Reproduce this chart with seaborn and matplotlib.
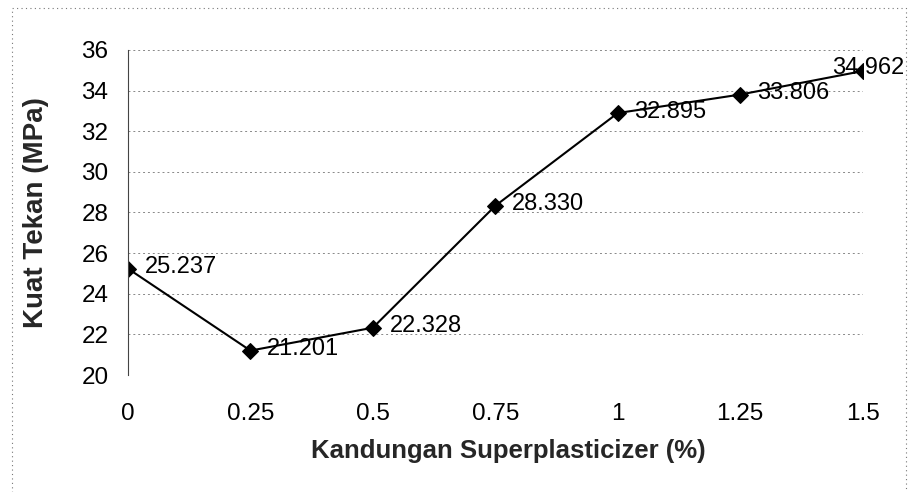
import numpy as np
import pandas as pd
import matplotlib
matplotlib.use('Agg')
import matplotlib.pyplot as plt
import seaborn as sns
from matplotlib.patches import Rectangle

# data
kadar = [0, 0.25, 0.5, 0.75, 1, 1.25, 1.5]
kuat_tekan = [25.237, 21.201, 22.328, 28.330, 32.895, 33.806, 34.962]
x_ticks = [0, 0.25, 0.5, 0.75, 1, 1.25, 1.5]
x_labels = ['0', '0.25', '0.5', '0.75', '1', '1.25', '1.5']
y_ticks = [20, 22, 24, 26, 28, 30, 32, 34, 36]

df = pd.DataFrame({'kadar': kadar, 'kuat': kuat_tekan})

sns.set_style('white')
plt.rcParams['font.family'] = ['Liberation Sans', 'DejaVu Sans']

fig = plt.figure(figsize=(9.09, 4.92), dpi=100)
ax = fig.add_axes([0.1408, 0.2378, 0.8082, 0.6606])

sns.lineplot(data=df, x='kadar', y='kuat', ax=ax, color='black', linewidth=1.5,
             marker='D', markersize=8.5, markeredgecolor='black')

# data labels right of each point; last one sits over its point like in Excel
for i, (xv, yv) in enumerate(zip(kadar, kuat_tekan)):
    if i == len(kadar) - 1:
        ax.annotate(f'{yv:.3f}', (xv, yv), xytext=(4, 2), textcoords='offset points',
                    va='center', ha='center', fontsize=17, color='black', zorder=1)
    else:
        ax.annotate(f'{yv:.3f}', (xv, yv), xytext=(12, 1), textcoords='offset points',
                    va='center', ha='left', fontsize=17, color='black')

ax.set_xlim(0, 1.5)
ax.set_ylim(20, 36)
ax.set_xticks(x_ticks)
ax.set_xticklabels(x_labels)
ax.set_yticks(y_ticks)
ax.tick_params(axis='both', labelsize=17.5, colors='#555555', labelcolor='black',
               length=4, width=0.8)
ax.tick_params(axis='x', pad=16)
ax.tick_params(axis='y', pad=10)

ax.yaxis.grid(True, color='#888888', linestyle=(0, (2, 3)), linewidth=0.7)
ax.xaxis.grid(False)
for s in ['top', 'right', 'bottom']:
    ax.spines[s].set_visible(False)
ax.spines['left'].set_color('#444444')
ax.spines['left'].set_linestyle((0, (3, 1)))
ax.spines['left'].set_linewidth(0.8)

ax.set_xlabel('Kandungan Superplasticizer (%)', fontsize=18.5, fontweight='bold')
ax.set_ylabel('Kuat Tekan (MPa)', fontsize=20, fontweight='bold')
ax.xaxis.set_label_coords(0.518, -0.196)
ax.yaxis.set_label_coords(-0.108, 0.5)

# dotted chart border
fig.patches.append(Rectangle((0.013, -0.01), 0.984, 0.994, transform=fig.transFigure,
                             fill=False, edgecolor='#777777', linestyle=(0, (1, 3)),
                             linewidth=0.8))

fig.savefig('out.png', dpi=100)
